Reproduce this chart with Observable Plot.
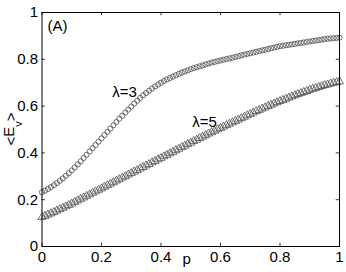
<!DOCTYPE html>
<html><head><meta charset="utf-8">
<script src="https://cdn.jsdelivr.net/npm/d3@7"></script>
<script src="https://cdn.jsdelivr.net/npm/@observablehq/plot@0.6"></script>
<style>
body{margin:0;background:#fff}
svg{font-family:"Liberation Sans",Arial,sans-serif;background:#fff}
</style>
</head><body><div id="chart"></div>
<script>
// p grid (0 to 1, step 0.01)
const pValues = d3.range(101).map(i => i / 100);

// <E_v> for lambda = 3 (circles)
const lambda3 = [
 0.232,0.239,0.246,0.254,0.262,0.271,0.281,0.291,0.302,0.313,
 0.325,0.338,0.351,0.364,0.378,0.392,0.406,0.420,0.434,0.448,
 0.462,0.476,0.490,0.504,0.518,0.532,0.546,0.559,0.572,0.585,
 0.598,0.611,0.623,0.635,0.646,0.656,0.666,0.675,0.684,0.692,
 0.700,0.707,0.714,0.720,0.726,0.732,0.738,0.743,0.748,0.753,
 0.758,0.762,0.766,0.770,0.774,0.778,0.782,0.786,0.789,0.792,
 0.795,0.798,0.801,0.804,0.807,0.810,0.813,0.817,0.820,0.823,
 0.826,0.829,0.832,0.835,0.838,0.841,0.844,0.847,0.850,0.853,
 0.856,0.858,0.860,0.862,0.864,0.866,0.868,0.870,0.872,0.874,
 0.876,0.878,0.880,0.882,0.884,0.886,0.888,0.889,0.890,0.891,
 0.892
];

// <E_v> for lambda = 5 (triangles)
const lambda5 = [
 0.125,0.130,0.136,0.141,0.147,0.153,0.159,0.165,0.171,0.177,
 0.183,0.190,0.196,0.203,0.209,0.216,0.222,0.229,0.235,0.242,
 0.248,0.255,0.261,0.268,0.274,0.281,0.287,0.294,0.300,0.307,
 0.313,0.320,0.326,0.333,0.339,0.346,0.352,0.359,0.365,0.372,
 0.378,0.385,0.391,0.398,0.404,0.411,0.417,0.424,0.430,0.437,
 0.443,0.450,0.456,0.463,0.469,0.475,0.482,0.488,0.494,0.500,
 0.506,0.512,0.518,0.524,0.530,0.536,0.542,0.548,0.554,0.560,
 0.566,0.572,0.578,0.583,0.589,0.594,0.600,0.605,0.611,0.616,
 0.621,0.626,0.631,0.636,0.641,0.646,0.651,0.655,0.660,0.664,
 0.669,0.673,0.677,0.681,0.685,0.689,0.692,0.696,0.699,0.702,
 0.705
];

const xTicks = [0, 0.2, 0.4, 0.6, 0.8, 1];
const yTicks = [0, 0.2, 0.4, 0.6, 0.8, 1];
const seriesNames = ["λ=3", "λ=5"];
const labelX = [0.236, 0.505];
const labelY = [0.641, 0.509];

const d3data = pValues.map((p, i) => ({p, v: lambda3[i]}));
const d5data = pValues.map((p, i) => ({p, v: lambda5[i]}));
const labels = seriesNames.map((name, i) => ({name, x: labelX[i], y: labelY[i]}));

const fmt = d => String(d);
const chart = Plot.plot({
  width: 346, height: 272,
  marginLeft: 41.5, marginRight: 7, marginTop: 12, marginBottom: 26,
  style: {fontSize: "15px", fontFamily: '"Liberation Sans", Arial, sans-serif', background: "#fff", color: "#000", overflow: "visible"},
  x: {domain: [0, 1]},
  y: {domain: [0, 1]},
  marks: [
    Plot.axisX({ticks: xTicks, tickSize: 0, tickPadding: 5, tickFormat: fmt, fontSize: 15, label: null}),
    Plot.axisY({ticks: yTicks, tickSize: 0, tickPadding: 4, tickFormat: fmt, fontSize: 15, label: null}),
    Plot.ruleX(xTicks, {y1: 0, y2: 0.014, stroke: "#000", strokeWidth: 0.8}),
    Plot.ruleX(xTicks, {y1: 1, y2: 0.986, stroke: "#000", strokeWidth: 0.8}),
    Plot.ruleY(yTicks, {x1: 0, x2: 0.011, stroke: "#000", strokeWidth: 0.8}),
    Plot.ruleY(yTicks, {x1: 1, x2: 0.989, stroke: "#000", strokeWidth: 0.8}),
    Plot.dot(d3data, {x: "p", y: "v", r: 2.6, stroke: "#444", strokeWidth: 0.75, fill: "none"}),
    Plot.dot(d5data, {x: "p", y: "v", symbol: "triangle", r: 3, stroke: "#444", strokeWidth: 0.75, fill: "none"}),
    Plot.frame({stroke: "#000", strokeWidth: 1}),
    Plot.text(labels, {x: "x", y: "y", text: "name", textAnchor: "start", lineAnchor: "bottom", fontSize: 15, fill: "#000"}),
    Plot.text(["(A)"], {frameAnchor: "top-left", dx: 5.5, dy: 8, textAnchor: "start", lineAnchor: "top", fontSize: 15, fill: "#000"}),
    Plot.text(["p"], {frameAnchor: "bottom", dx: -4, dy: 17, lineAnchor: "bottom", fontSize: 15, fill: "#000"})
  ]
});
document.getElementById("chart").append(chart);

// y-axis label <E_v>
const svg = d3.select(chart);
const yl = svg.append("text")
  .attr("transform", "translate(14,129) rotate(-90)")
  .attr("text-anchor", "middle")
  .attr("font-size", 15)
  .attr("fill", "#000");
yl.append("tspan").attr("dy", 2).text("<");
yl.append("tspan").attr("dy", -2).text("E");
yl.append("tspan").attr("dy", 8).attr("font-size", 11).text("v");
yl.append("tspan").attr("dy", -6).text(">");
</script>
</body></html>
